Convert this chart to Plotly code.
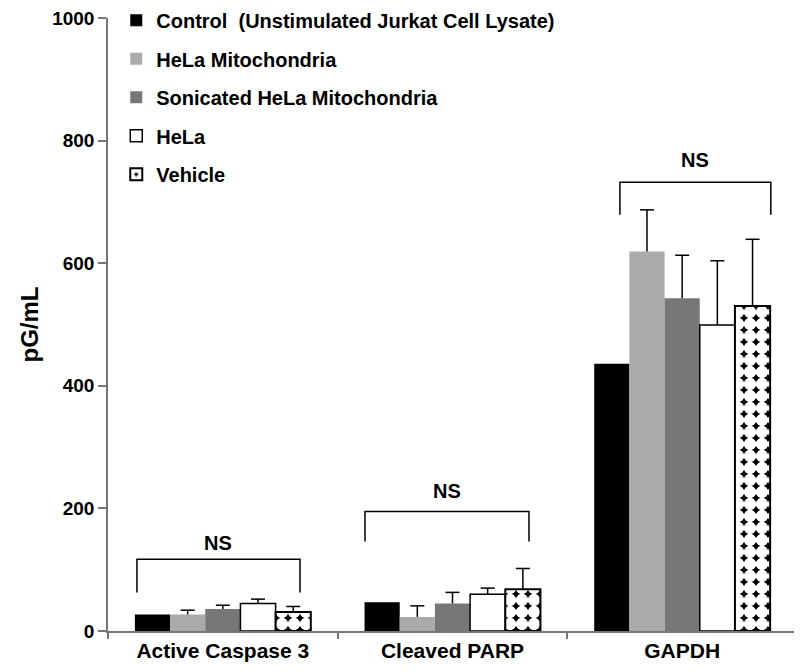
import plotly.graph_objects as go

categories = ["Active Caspase 3", "Cleaved PARP", "GAPDH"]
cat_pos = [0, 1, 2]

series_names = [
    "Control\u00a0\u00a0(Unstimulated Jurkat Cell Lysate)",
    "HeLa Mitochondria",
    "Sonicated HeLa Mitochondria",
    "HeLa",
    "Vehicle",
]
control = [27, 47, 436]
hela_mito = [27, 23, 619]
sonicated = [36, 45, 543]
hela = [45, 60, 499]
vehicle = [31, 68, 530]

control_err = [None, None, None]
hela_mito_err = [7, 18, 68]
sonicated_err = [6, 18, 70]
hela_err = [7, 10, 105]
vehicle_err = [9, 34, 109]

# significance brackets (x offsets relative to group centre, y levels)
bracket_left = [-0.374, -0.381, -0.271]
bracket_right = [0.336, 0.333, 0.386]
bracket_top = [117, 195, 732]
bracket_bottom = [63, 146, 679]
ns_y = [144, 228, 768]
ns_label = "NS"

FONT = "Liberation Sans, Arial, sans-serif"
BARGAP = 0.234

values = [control, hela_mito, sonicated, hela, vehicle]
errors = [control_err, hela_mito_err, sonicated_err, hela_err, vehicle_err]
markers = [
    dict(color="black", line=dict(color="black", width=0)),
    dict(color="#aaaaaa", line=dict(width=0)),
    dict(color="#777777", line=dict(width=0)),
    dict(color="white", line=dict(color="black", width=1.5)),
    dict(color="black", line=dict(color="black", width=2),
         pattern=dict(shape=".", fgcolor="white", bgcolor="black",
                      size=12, solidity=0.80, fillmode="replace")),
]

fig = go.Figure()
n = len(values)
bw = (1 - BARGAP) / n
for i in range(n):
    has_err = any(e is not None for e in errors[i])
    kw = {}
    if has_err:
        kw["error_y"] = dict(type="data", symmetric=False, array=errors[i],
                             arrayminus=[0] * len(errors[i]), color="black",
                             thickness=1.5, width=0)
    fig.add_trace(go.Bar(name=series_names[i], x=cat_pos, y=values[i],
                         marker=markers[i], legendgroup=str(i), **kw))
for i in range(n):
    if not any(e is not None for e in errors[i]):
        continue
    xs = [c - (1 - BARGAP) / 2 + (i + 0.5) * bw for c in cat_pos]
    ys = [v + e for v, e in zip(values[i], errors[i])]
    fig.add_trace(go.Scatter(x=xs, y=ys, mode="markers",
                             marker=dict(symbol="line-ew", size=10,
                                         line=dict(color="black", width=1.5)),
                             showlegend=False, hoverinfo="skip"))

for i, c in enumerate(cat_pos):
    xl = c + bracket_left[i]
    xr = c + bracket_right[i]
    fig.add_trace(go.Scatter(
        x=[xl, xl, xr, xr],
        y=[bracket_bottom[i], bracket_top[i], bracket_top[i], bracket_bottom[i]],
        mode="lines", line=dict(color="black", width=1.5),
        showlegend=False, hoverinfo="skip"))
    fig.add_annotation(x=(xl + xr) / 2, y=ns_y[i], text="<b>%s</b>" % ns_label,
                       showarrow=False, font=dict(family=FONT, size=20, color="black"))

fig.update_layout(
    width=794, height=664,
    margin=dict(l=100, r=5, t=10, b=41, autoexpand=False),
    paper_bgcolor="white", plot_bgcolor="white",
    barmode="group", bargap=BARGAP, bargroupgap=0,
    font=dict(family=FONT, color="black"),
    legend=dict(x=0.012, y=1.028, xanchor="left", yanchor="top",
                bgcolor="rgba(0,0,0,0)", tracegroupgap=9.5,
                font=dict(family=FONT, size=20, color="black", weight="bold")),
    showlegend=True,
)
fig.update_xaxes(
    range=[-0.5, 2.5], tickvals=cat_pos, ticktext=categories,
    showline=True, linecolor="#777777", linewidth=1.5,
    ticks="", showgrid=False, zeroline=False,
    tickfont=dict(family=FONT, size=21, color="black", weight="bold"),
    minor=dict(tickvals=[-0.5, 0.5, 1.5, 2.5], ticks="outside",
               ticklen=6, tickcolor="#777777", tickwidth=1.5),
)
fig.update_yaxes(
    range=[0, 1000], tickvals=[0, 200, 400, 600, 800, 1000],
    showline=True, linecolor="#777777", linewidth=1.5,
    ticks="outside", ticklen=8, tickcolor="#777777", tickwidth=1.5,
    showgrid=False, zeroline=False, ticklabeloverflow="allow",
    tickfont=dict(family=FONT, size=19, color="black", weight="bold"),
    title=dict(text="pG/mL", standoff=7,
               font=dict(family=FONT, size=24, color="black", weight="bold")),
)

fig.write_html("out.html")
